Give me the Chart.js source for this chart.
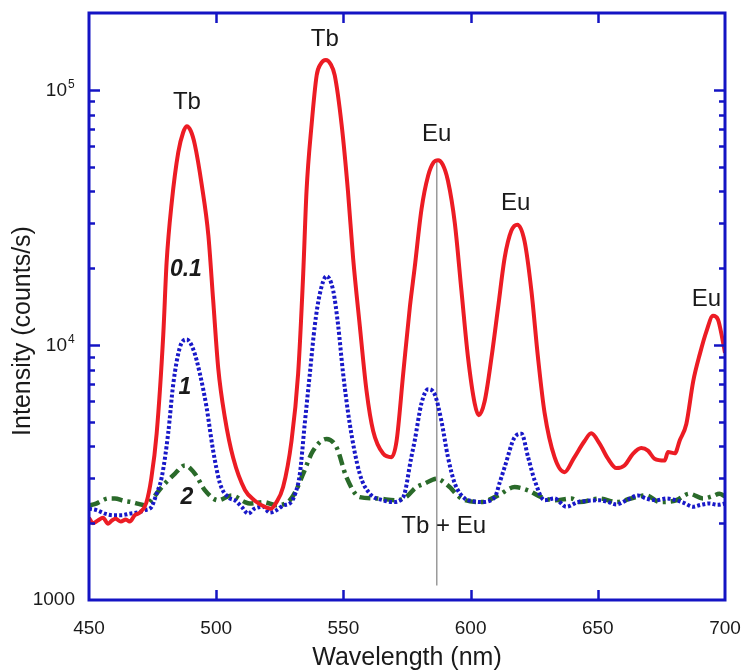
<!DOCTYPE html>
<html>
<head>
<meta charset="utf-8">
<script src="https://cdn.jsdelivr.net/npm/chart.js@4.4.1/dist/chart.umd.min.js"></script>
<style>
  html, body { margin: 0; padding: 0; background: #ffffff; }
  #wrap { width: 744px; height: 670px; }
</style>
</head>
<body>
<div id="wrap"><canvas id="c" width="744" height="670"></canvas></div>
<script>
// ---------------- DATA ----------------
// Wavelength (nm), intensity (counts/s)
const series01 = [
  [450,2100],[451.5,2000],[453.5,2050],[455.5,2100],[457.5,1990],[459,2050],[460.5,2080],[462.5,2030],
  [464.5,2070],[466,2030],[468,2150],[470,2200],[472.5,2400],[474.5,3000],[476.6,4500],[479.2,11000],
  [480.5,21000],[482.5,36000],[485.1,57000],[487,68000],[488.4,72000],[490,69000],[491.6,61000],
  [494.3,42500],[496.9,27000],[498.8,15000],[500.8,8100],[503.4,5200],[506.7,3600],[511.3,2700],
  [515.2,2450],[519.8,2300],[521.5,2280],[523.5,2400],[526.3,2770],[529.6,4200],[532.2,7700],
  [534.2,19000],[535.5,40000],[537.5,73000],[539.5,114000],[541,126000],[543.1,131000],[545,126000],
  [546.6,114000],[549.3,73000],[551.8,40000],[553.8,22000],[556.4,12000],[559.1,6600],[561.7,4600],
  [565.6,3750],[568.9,3630],[570.9,4200],[573.5,7700],[576.1,14000],[578,20000],[580.7,34000],
  [583.3,46000],[585.5,52000],[587.2,53000],[589,51000],[591.1,44000],[593.8,30000],[596.4,16300],
  [599,8900],[601.6,5900],[603.2,5300],[605.5,6000],[608.2,8900],[610.8,14000],[613.4,22000],
  [616,28000],[618.4,29600],[621.2,25500],[623.9,16300],[626.5,8900],[629.1,5400],[633,3630],
  [636.9,3170],[640.6,3600],[644.8,4200],[647.4,4500],[650.7,4100],[654,3580],[657.3,3290],
  [660.5,3370],[663.8,3740],[667.1,3940],[669.7,3850],[672.3,3580],[676.3,3520],[677.6,3800],
  [680.3,3760],[682.2,4220],[684.8,4900],[687.5,7200],[690.1,9200],[692.7,11300],[695.3,13000],
  [697.2,12600],[699.1,10400],[700,9300]
];
const series1 = [
  [450,2280],[453,2250],[456.3,2180],[459.5,2150],[462.8,2150],[466,2180],[469.4,2210],[472,2250],
  [474.6,2320],[476.5,2600],[478.6,3030],[481.1,4480],[483.1,7000],[485.7,9760],[488.4,10500],
  [491,9600],[493.6,7700],[496.2,5700],[498.8,3850],[501.5,2860],[504.7,2530],[507.5,2450],
  [510,2320],[512.6,2180],[515,2280],[518.5,2320],[521,2200],[523.7,2250],[526.5,2350],[528.9,2390],
  [531,2600],[532.9,3130],[534.8,4900],[536.8,7700],[538.8,12000],[540.7,15800],[543.4,18600],
  [546,16300],[547.9,12000],[549.9,7700],[552.5,4900],[556.4,3130],[560.4,2610],[565.6,2460],
  [569.5,2420],[573.5,2530],[576.7,3630],[578,4200],[580.7,5900],[583.3,6700],[585.9,6400],
  [588.5,5050],[591.1,3630],[593.8,2860],[597.7,2500],[601,2440],[604.2,2420],[609.5,2530],
  [611.5,2900],[613.4,3320],[617.3,4340],[620,4480],[622.6,3630],[625.2,2940],[629.1,2460],
  [633,2500],[637.6,2320],[642.2,2420],[646,2450],[650.7,2460],[654,2420],[657.3,2370],[661,2450],
  [665.8,2570],[669,2500],[673,2460],[677,2500],[680.8,2460],[684,2400],[687.4,2320],[690.5,2360],
  [693.9,2390],[697,2360],[700,2390]
];
const series2 = [
  [450,2350],[452.5,2380],[455,2450],[457.5,2500],[460.2,2500],[463.5,2450],[466.8,2420],[469.5,2380],
  [472,2350],[475,2500],[478.6,2770],[483.8,3130],[487.7,3370],[491.6,3130],[495.6,2690],[500.8,2460],
  [506,2570],[511.3,2420],[513.2,2390],[518.5,2420],[523.7,2350],[528.9,2460],[531.5,2700],
  [534.2,3130],[538.1,3850],[543.4,4280],[547.3,3970],[551.2,3030],[556.4,2530],[563,2500],
  [570.9,2460],[575,2550],[578.3,2750],[582,2860],[586.6,2990],[591.1,2810],[596.4,2500],
  [604.2,2420],[610.8,2570],[617.3,2770],[622.6,2690],[627.8,2530],[633,2460],[639.6,2500],
  [642.8,2420],[650.7,2500],[657.3,2420],[663,2500],[669.1,2570],[674.4,2420],[680.8,2460],
  [686,2610],[691.3,2500],[695,2550],[697.8,2610],[700,2550]
];
const xTickValues = [450, 500, 550, 600, 650, 700];
const yTickValues = [1000, 10000, 100000];
const yTickLabels = [['1000', ''], ['10', '4'], ['10', '5']];
const peakLabels = [
  { text: 'Tb', x: 488.5, y: 89000 },
  { text: 'Tb', x: 542.7, y: 157000 },
  { text: 'Eu', x: 586.7, y: 66700 },
  { text: 'Eu', x: 617.7, y: 36000 },
  { text: 'Eu', x: 692.7, y: 15100 },
  { text: 'Tb + Eu', x: 589.4, y: 1950 }
];
const curveLabels = [
  { text: '0.1', x: 488.1, y: 19800 },
  { text: '1', x: 487.7, y: 6790 },
  { text: '2', x: 488.5, y: 2530 }
];
const markerLine = { x: 586.7, yFrom: 1140, yTo: 53000 };
const xTitle = 'Wavelength (nm)';
const yTitle = 'Intensity (counts/s)';

// ---------------- STYLE ----------------
const FONT = "'Liberation Sans', Arial, Helvetica, sans-serif";
const FRAME = '#1414c4';
const TEXT = '#1a1a1a';

const toXY = arr => arr.map(p => ({ x: p[0], y: p[1] }));

const decor = {
  id: 'decor',
  beforeDraw(chart) {
    const c = chart.ctx;
    c.save();
    c.fillStyle = '#ffffff';
    c.fillRect(0, 0, chart.width, chart.height);
    c.restore();
  },
  beforeDatasetsDraw(chart) {
    const { ctx: c, scales: { x, y } } = chart;
    c.save();
    c.strokeStyle = '#9a9a9a';
    c.lineWidth = 1.5;
    c.beginPath();
    const px = x.getPixelForValue(markerLine.x);
    c.moveTo(px, y.getPixelForValue(markerLine.yTo));
    c.lineTo(px, y.getPixelForValue(markerLine.yFrom));
    c.stroke();
    c.restore();
  },
  afterDraw(chart) {
    const { ctx: c, chartArea: a, scales: { x, y } } = chart;
    c.save();
    // Frame
    c.strokeStyle = FRAME;
    c.lineWidth = 3;
    c.strokeRect(a.left, a.top, a.right - a.left, a.bottom - a.top);
    // x ticks (inward, bottom and top)
    c.lineWidth = 2.5;
    c.beginPath();
    xTickValues.forEach(v => {
      if (v <= x.min || v >= x.max) return;
      const px = Math.round(x.getPixelForValue(v)) + 0.5;
      c.moveTo(px, a.bottom); c.lineTo(px, a.bottom - 10);
      c.moveTo(px, a.top); c.lineTo(px, a.top + 10);
    });
    // y ticks major & minor, left and right
    for (let d = 1000; d < y.max; d *= 10) {
      for (let m = 1; m < 10; m++) {
        const v = d * m;
        if (v <= y.min || v >= y.max) continue;
        const py = Math.round(y.getPixelForValue(v)) + 0.5;
        const len = m === 1 ? 11 : 6;
        c.moveTo(a.left, py); c.lineTo(a.left + len, py);
        c.moveTo(a.right, py); c.lineTo(a.right - len, py);
      }
    }
    c.stroke();

    // y tick labels
    c.fillStyle = TEXT;
    c.textBaseline = 'middle';
    yTickValues.forEach((v, i) => {
      const py = y.getPixelForValue(v);
      const [base, exp] = yTickLabels[i];
      c.font = '19px ' + FONT;
      if (!exp) {
        c.textAlign = 'right';
        c.fillText(base, 75, py);
      } else {
        c.textAlign = 'right';
        c.fillText(base, 67, py + 1);
        c.font = '12px ' + FONT;
        c.textAlign = 'left';
        c.fillText(exp, 68, py - 5);
      }
    });

    // y title
    c.save();
    c.translate(23, 331);
    c.rotate(-Math.PI / 2);
    c.font = '25px ' + FONT;
    c.textAlign = 'center';
    c.textBaseline = 'middle';
    c.fillText(yTitle, 0, 0);
    c.restore();

    // peak labels
    c.font = '24px ' + FONT;
    c.textAlign = 'center';
    c.textBaseline = 'middle';
    peakLabels.forEach(l => {
      c.fillText(l.text, x.getPixelForValue(l.x), y.getPixelForValue(l.y));
    });
    // curve labels
    c.font = 'italic bold 23px ' + FONT;
    curveLabels.forEach(l => {
      c.fillText(l.text, x.getPixelForValue(l.x), y.getPixelForValue(l.y));
    });
    c.restore();
  }
};

new Chart(document.getElementById('c'), {
  type: 'line',
  data: {
    datasets: [
      {
        label: '0.1',
        data: toXY(series01),
        borderColor: '#ec1c24',
        borderWidth: 4,
        pointRadius: 0,
        cubicInterpolationMode: 'monotone',
        fill: false
      },
      {
        label: '1',
        data: toXY(series1),
        borderColor: '#1818c8',
        borderWidth: 4,
        borderDash: [3, 2.2],
        pointRadius: 0,
        cubicInterpolationMode: 'monotone',
        fill: false
      },
      {
        label: '2',
        data: toXY(series2),
        borderColor: '#2a6a2a',
        borderWidth: 4.5,
        borderDash: [11, 5, 3, 5],
        pointRadius: 0,
        cubicInterpolationMode: 'monotone',
        fill: false
      }
    ]
  },
  options: {
    responsive: false,
    devicePixelRatio: 1,
    animation: false,
    layout: { padding: { left: 0, right: 19, top: 13, bottom: 0 } },
    plugins: { legend: { display: false }, tooltip: { enabled: false } },
    scales: {
      x: {
        type: 'linear',
        min: 450,
        max: 700,
        afterBuildTicks: s => { s.ticks = xTickValues.map(v => ({ value: v })); },
        afterFit: s => { s.height = 70; s.paddingLeft = 0; s.paddingRight = 0; },
        grid: { display: false, drawTicks: false },
        border: { display: false },
        ticks: {
          padding: 17,
          color: TEXT,
          font: { family: FONT, size: 19 },
          maxRotation: 0,
          autoSkip: false,
          callback: v => String(v)
        },
        title: {
          display: true,
          text: xTitle,
          color: TEXT,
          font: { family: FONT, size: 25, lineHeight: 1 },
          padding: { top: 0, bottom: -1 }
        }
      },
      y: {
        type: 'logarithmic',
        min: 1000,
        max: 200000,
        afterBuildTicks: s => { s.ticks = yTickValues.map(v => ({ value: v })); },
        afterFit: s => { s.width = 89; s.paddingTop = 0; s.paddingBottom = 0; },
        grid: { display: false, drawTicks: false },
        border: { display: false },
        ticks: { display: false }
      }
    }
  },
  plugins: [decor]
});
</script>
</body>
</html>
